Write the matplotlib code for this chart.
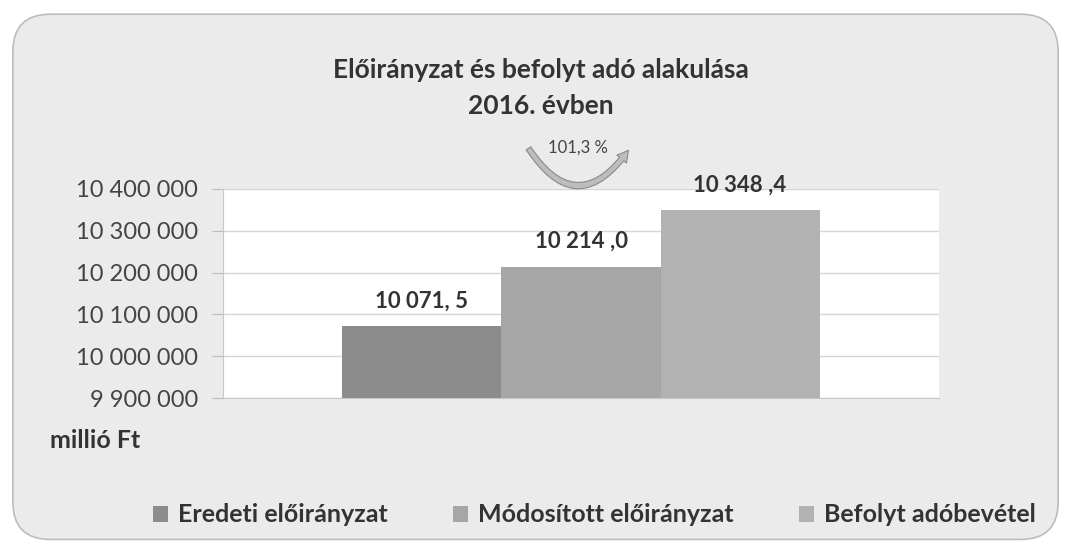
import matplotlib.pyplot as plt
from matplotlib.patches import FancyBboxPatch, FancyArrowPatch
from matplotlib.ticker import FuncFormatter

plt.rcParams['font.family'] = ['Lato', 'DejaVu Sans']

series = ['Eredeti előirányzat', 'Módosított előirányzat', 'Befolyt adóbevétel']
values = [10071500, 10214000, 10348400]
value_labels = ['10 071, 5', '10 214 ,0', '10 348 ,4']
yticks = [9900000, 10000000, 10100000, 10200000, 10300000, 10400000]
colors = ['#8c8c8c', '#a6a6a6', '#b2b2b2']

fig = plt.figure(figsize=(10.71, 5.46), dpi=100)
fig.patch.set_facecolor('white')

# rounded gray background
bg = FancyBboxPatch((0.012, 0.012), 0.976, 0.962, boxstyle='round,pad=0,rounding_size=0.035',
                    transform=fig.transFigure, facecolor='#ebebeb', edgecolor='#bdbdbd',
                    linewidth=1.2, mutation_aspect=1071 / 546, zorder=-5)
fig.patches.append(bg)

ax = fig.add_axes([0.208, 0.271, 0.669, 0.383])
ax.set_facecolor('white')

w = 0.222
xs = [-w, 0, w]
for x, v, c, lab, vl in zip(xs, values, colors, series, value_labels):
    ax.bar(x, v - yticks[0], bottom=yticks[0], width=w, color=c, label=lab, zorder=3)
    ax.text(x, v + 36000, vl, ha='center', va='bottom', fontsize=16, fontweight='bold',
            color='#333333', zorder=4, clip_on=False)

ax.set_xlim(-0.5, 0.5)
ax.set_ylim(yticks[0], yticks[-1])
ax.set_yticks(yticks)
ax.yaxis.set_major_formatter(FuncFormatter(lambda v, p: f'{int(v):,}'.replace(',', ' ')))
ax.tick_params(axis='y', labelsize=17, labelcolor='#444444', length=8, color='#bbbbbb', pad=10)
ax.set_xticks([])
ax.grid(axis='y', color='#d6d6d6', linewidth=1, zorder=0)
for s in ['top', 'right']:
    ax.spines[s].set_visible(False)
ax.spines['left'].set_color('#c8c8c8')
ax.spines['bottom'].set_color('#c8c8c8')

fig.text(0.505, 0.872, 'Előirányzat és befolyt adó alakulása', ha='center', va='center',
         fontsize=19, fontweight='bold', color='#333333')
fig.text(0.505, 0.806, '2016. évben', ha='center', va='center',
         fontsize=19, fontweight='bold', color='#333333')

# curved arrow with percentage
arr = FancyArrowPatch((527 / 1071, 1 - 146 / 546), (630 / 1071, 1 - 148 / 546),
                      transform=fig.transFigure, connectionstyle='arc3,rad=0.75',
                      arrowstyle='simple,head_width=9,head_length=8,tail_width=4',
                      facecolor='#bdbdbd', edgecolor='#8a8a8a', linewidth=0.8, zorder=2)
fig.patches.append(arr)
fig.text(578 / 1071, 1 - 148 / 546, '101,3 %', ha='center', va='center', fontsize=12,
         color='#444444', zorder=3)

fig.text(0.047, 1 - 440 / 546, 'millió Ft', ha='left', va='center', fontsize=18,
         fontweight='bold', color='#333333')

leg = fig.legend(loc='center', bbox_to_anchor=(0.555, 1 - 515 / 546), ncol=3, frameon=False,
                 fontsize=18, handlelength=0.6, handleheight=0.6, handletextpad=0.4,
                 columnspacing=2.6)
for t in leg.get_texts():
    t.set_fontweight('bold')
    t.set_color('#333333')

fig.savefig('out.png', dpi=100, facecolor=fig.get_facecolor())
